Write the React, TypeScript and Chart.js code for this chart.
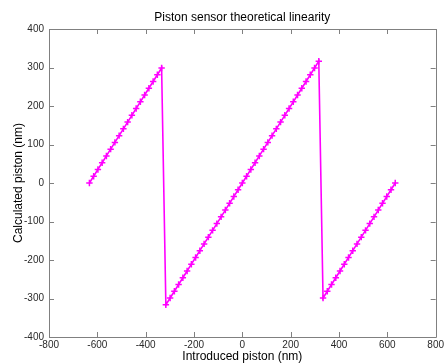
import React, { useEffect, useRef } from "react";
import { Chart, registerables } from "chart.js";

Chart.register(...registerables);

const chartTitle = "Piston sensor theoretical linearity";
const xAxisTitle = "Introduced piston (nm)";
const yAxisTitle = "Calculated piston (nm)";

const xTicks = [-800, -600, -400, -200, 0, 200, 400, 600, 800];
const yTicks = [-400, -300, -200, -100, 0, 100, 200, 300, 400];

const introducedPiston = [
  -632.8, -615.2, -597.6, -580.1, -562.5, -544.9, -527.3, -509.8, -492.2, -474.6,
  -457.0, -439.4, -421.9, -404.3, -386.7, -369.1, -351.6, -334.0,
  -316.4, -298.8, -281.2, -263.7, -246.1, -228.5, -210.9, -193.4, -175.8, -158.2,
  -140.6, -123.0, -105.5, -87.9, -70.3, -52.7, -35.2, -17.6, 0,
  17.6, 35.2, 52.7, 70.3, 87.9, 105.5, 123.0, 140.6, 158.2, 175.8,
  193.4, 210.9, 228.5, 246.1, 263.7, 281.2, 298.8, 316.4,
  334.0, 351.6, 369.1, 386.7, 404.3, 421.9, 439.4, 457.0, 474.6, 492.2,
  509.8, 527.3, 544.9, 562.5, 580.1, 597.6, 615.2, 632.8,
];

const calculatedPiston = [
  0, 17.6, 35.2, 52.7, 70.3, 87.9, 105.5, 123.0, 140.6, 158.2,
  175.8, 193.4, 210.9, 228.5, 246.1, 263.7, 281.2, 298.8,
  -316.4, -298.8, -281.2, -263.7, -246.1, -228.5, -210.9, -193.4, -175.8, -158.2,
  -140.6, -123.0, -105.5, -87.9, -70.3, -52.7, -35.2, -17.6, 0,
  17.6, 35.2, 52.7, 70.3, 87.9, 105.5, 123.0, 140.6, 158.2, 175.8,
  193.4, 210.9, 228.5, 246.1, 263.7, 281.2, 298.8, 316.4,
  -298.8, -281.2, -263.7, -246.1, -228.5, -210.9, -193.4, -175.8, -158.2, -140.6,
  -123.0, -105.5, -87.9, -70.3, -52.7, -35.2, -17.6, 0,
];

const FONT = "'Liberation Sans', Arial, Helvetica, sans-serif";
const AXIS_COLOR = "#808080";
const TEXT_COLOR = "#2a2a2a";
const LINE_COLOR = "#ff00ff";

const framePlugin = {
  id: "matlabFrame",
  beforeDatasetsDraw(chart: any) {
    const { ctx, chartArea, scales } = chart;
    const { left, right, top, bottom } = chartArea;
    const tl = 5;
    ctx.save();
    ctx.strokeStyle = AXIS_COLOR;
    ctx.lineWidth = 1;
    ctx.beginPath();
    ctx.rect(Math.round(left) + 0.5, Math.round(top) + 0.5, Math.round(right - left), Math.round(bottom - top));
    ctx.stroke();
    ctx.beginPath();
    xTicks.forEach((v) => {
      const px = Math.round(scales.x.getPixelForValue(v)) + 0.5;
      ctx.moveTo(px, bottom);
      ctx.lineTo(px, bottom - tl);
      ctx.moveTo(px, top);
      ctx.lineTo(px, top + tl);
    });
    yTicks.forEach((v) => {
      const py = Math.round(scales.y.getPixelForValue(v)) + 0.5;
      ctx.moveTo(left, py);
      ctx.lineTo(left + tl, py);
      ctx.moveTo(right, py);
      ctx.lineTo(right - tl, py);
    });
    ctx.stroke();
    ctx.restore();
  },
};

export default function App() {
  const ref = useRef<HTMLCanvasElement | null>(null);

  useEffect(() => {
    if (!ref.current) return;
    const points = introducedPiston.map((x, i) => ({ x, y: calculatedPiston[i] }));
    const chart = new Chart(ref.current, {
      type: "line",
      data: {
        datasets: [
          {
            data: points,
            borderColor: LINE_COLOR,
            backgroundColor: LINE_COLOR,
            borderWidth: 1.6,
            pointStyle: "cross",
            pointRadius: 3.2,
            pointBorderWidth: 1.5,
            pointBorderColor: LINE_COLOR,
            pointHoverRadius: 3.2,
            tension: 0,
            fill: false,
          },
        ],
      },
      options: {
        responsive: false,
        animation: false,
        layout: { padding: { left: 0, right: 8, top: 0, bottom: 0 } },
        plugins: {
          legend: { display: false },
          tooltip: { enabled: false },
          title: {
            display: true,
            text: chartTitle,
            fullSize: false,
            color: "#000",
            font: { family: FONT, size: 12, weight: "normal", lineHeight: 1.2 },
            padding: { top: 10.5, bottom: 4.1 },
          },
        },
        scales: {
          x: {
            type: "linear",
            min: -800,
            max: 800,
            afterBuildTicks: (scale: any) => {
              scale.ticks = xTicks.map((v) => ({ value: v }));
            },
            afterFit: (scale: any) => {
              scale.height = 27;
            },
            grid: { display: false, drawTicks: false },
            border: { display: false },
            ticks: {
              autoSkip: false,
              maxRotation: 0,
              padding: 2,
              color: TEXT_COLOR,
              font: { family: FONT, size: 10 },
            },
            title: {
              display: true,
              text: xAxisTitle,
              color: "#000",
              font: { family: FONT, size: 12 },
              padding: { top: 0, bottom: 0 },
            },
          },
          y: {
            type: "linear",
            min: -400,
            max: 400,
            afterBuildTicks: (scale: any) => {
              scale.ticks = yTicks.map((v) => ({ value: v }));
            },
            afterFit: (scale: any) => {
              scale.width = 49;
            },
            grid: { display: false, drawTicks: false },
            border: { display: false },
            ticks: {
              autoSkip: false,
              padding: 5,
              color: TEXT_COLOR,
              font: { family: FONT, size: 10 },
            },
            title: {
              display: true,
              text: yAxisTitle,
              color: "#000",
              font: { family: FONT, size: 12 },
              padding: { top: 11, bottom: 0 },
            },
          },
        },
      },
      plugins: [framePlugin],
    } as any);
    return () => chart.destroy();
  }, []);

  return (
    <div style={{ position: "fixed", left: 0, top: 0, width: 446, height: 364, background: "#fff" }}>
      <canvas ref={ref} width={446} height={364} style={{ display: "block", width: 446, height: 364 }} />
    </div>
  );
}
